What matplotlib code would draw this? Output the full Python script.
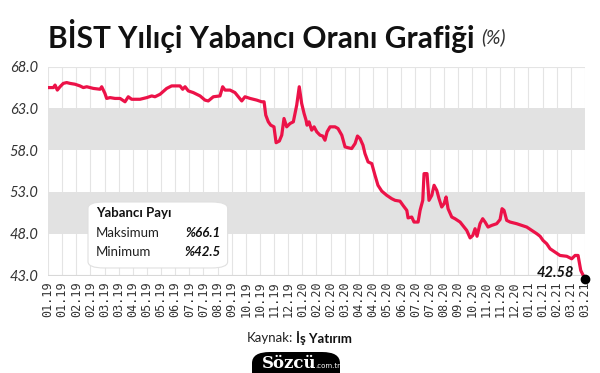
import matplotlib.pyplot as plt
from matplotlib.patches import FancyBboxPatch

# ---------------- data ----------------
tick_labels = ['01.19', '01.19', '02.19', '02.19', '03.19', '03.19', '04.19', '05.19',
               '05.19', '06.19', '07.19', '07.19', '08.19', '09.19', '10.19', '10.19',
               '11.19', '12.19', '01.20', '02.20', '02.20', '03.20', '04.20', '04.20',
               '05.20', '06.20', '07.20', '07.20', '08.20', '09.20', '10.20', '11.20',
               '11.20', '12.20', '01.21', '01.21', '02.21', '03.21', '03.21']

# position along the axis, in tick steps
t = [0.00, 0.38, 0.50, 0.66, 0.85, 1.08, 1.32, 1.56, 1.91, 2.26, 2.50, 2.74, 3.21, 3.68,
     3.80, 4.03, 4.15, 4.39, 4.74, 5.10, 5.45, 5.68, 5.92, 6.51, 6.99, 7.34, 7.57, 7.93,
     8.40, 8.75, 9.34, 9.53, 9.70, 9.93, 10.28, 10.76, 11.11, 11.34, 11.70, 12.17, 12.36,
     12.53, 12.88, 13.23, 13.47, 13.71, 13.94, 14.30, 14.77, 15.12, 15.29, 15.41, 15.59,
     15.76, 15.99, 16.14, 16.37, 16.54, 16.70, 16.89, 17.13, 17.36, 17.60, 17.78, 17.95,
     18.12, 18.26, 18.33, 18.47, 18.66, 18.83, 19.02, 19.25, 19.44, 19.60, 19.75, 19.96,
     20.31, 20.52, 20.79, 21.02, 21.23, 21.49, 21.73, 21.90, 22.08, 22.29, 22.43, 22.65,
     22.91, 23.14, 23.35, 23.62, 23.97, 24.32, 24.56, 24.91, 25.12, 25.39, 25.48, 25.74,
     25.90, 26.19, 26.33, 26.52, 26.61, 26.82, 26.96, 27.16, 27.32, 27.51, 27.67, 27.86,
     28.03, 28.17, 28.31, 28.57, 28.80, 29.16, 29.44, 29.63, 29.87, 30.06, 30.22, 30.36,
     30.57, 30.76, 30.93, 31.14, 31.40, 31.75, 31.99, 32.13, 32.27, 32.46, 32.70, 33.17,
     33.52, 33.88, 34.23, 34.59, 34.82, 35.03, 35.29, 35.53, 35.88, 36.23, 36.71, 37.06,
     37.30, 37.51, 37.70, 38.00]

ratio = [65.5, 65.5, 65.8, 65.2, 65.6, 66.0, 66.1, 66.0, 65.9, 65.7, 65.5, 65.6, 65.4, 65.3,
         65.6, 64.8, 64.2, 64.3, 64.2, 64.2, 63.8, 64.4, 64.1, 64.1, 64.3, 64.5, 64.4, 64.7,
         65.4, 65.7, 65.7, 65.3, 65.6, 65.1, 64.9, 64.5, 64.0, 63.9, 64.4, 64.5, 65.6,
         65.2, 65.2, 64.9, 64.4, 63.9, 64.4, 64.2, 64.0, 63.8, 63.8, 62.2, 61.4,
         61.0, 60.8, 58.9, 59.1, 59.8, 61.8, 60.8, 61.2, 61.4, 63.4, 65.6, 63.6,
         62.4, 61.6, 61.0, 61.4, 60.4, 60.8, 60.2, 59.8, 59.7, 59.2, 60.2, 60.8,
         60.8, 60.6, 59.8, 58.4, 58.3, 58.2, 58.8, 59.7, 59.4, 58.6, 57.6, 56.6,
         56.4, 55.0, 53.8, 53.1, 52.6, 52.2, 52.0, 51.9, 51.4, 50.8, 49.9, 50.0,
         49.4, 49.4, 50.8, 52.0, 55.2, 55.2, 52.0, 52.6, 53.8, 53.2, 52.2, 51.2,
         51.6, 52.4, 51.0, 50.0, 49.8, 49.4, 48.8, 48.4, 47.5, 47.8, 48.6, 47.7,
         49.2, 49.8, 49.4, 48.8, 49.0, 49.2, 49.7, 51.0, 50.8, 49.6, 49.4, 49.2,
         49.0, 48.8, 48.4, 48.0, 47.7, 47.2, 46.8, 46.2, 45.8, 45.4, 45.3, 45.0,
         45.4, 45.4, 43.6, 42.58]

y_ticks = [43.0, 48.0, 53.0, 58.0, 63.0, 68.0]
bands = [(58.0, 63.0), (48.0, 53.0)]
max_val = 66.1
min_val = 42.5
last_val = 42.58

red = '#ec1248'

# ---------------- figure ----------------
fig = plt.figure(figsize=(6, 3.73), dpi=100)
ax = fig.add_axes([48 / 600, 1 - 275.5 / 373, 537 / 600, 208.8 / 373])

ax.set_xlim(0, len(tick_labels) - 1)
ax.set_ylim(y_ticks[0], y_ticks[-1])

# vertical grid, then grey bands over it
for k in range(len(tick_labels)):
    ax.axvline(k, color='#e4e4e4', lw=0.8, zorder=0)
for lo, hi in bands:
    ax.axhspan(lo, hi, color='#e2e2e2', lw=0, zorder=1)
ax.axhline(y_ticks[-1], color='#e4e4e4', lw=0.8, zorder=1)
ax.axhline(y_ticks[0], color='#d8d8d8', lw=0.8, zorder=1)

ax.plot(t, ratio, color=red, lw=2.3, solid_joinstyle='round', zorder=3)
ax.plot(t[-1], last_val, 'o', color='black', ms=6, clip_on=False, zorder=4)
ax.annotate(f'{last_val:.2f}', xy=(t[-1], last_val), xytext=(-8, 4.5),
            textcoords='offset points', ha='right', va='center',
            fontsize=10.5, fontweight='bold', fontstyle='italic',
            family='Lato', color='#111111', zorder=5, annotation_clip=False)

ax.set_xticks(range(len(tick_labels)))
ax.set_xticklabels(tick_labels, rotation=90, family='DejaVu Sans Mono',
                   fontsize=8.5, color='#333333')
ax.set_yticks(y_ticks)
ax.set_yticklabels([f'{v:.1f}' for v in y_ticks], family='Lato', fontstyle='italic',
                   fontsize=10.5, color='#333333')
ax.tick_params(length=0)
ax.tick_params(axis='y', pad=7)
ax.tick_params(axis='x', pad=4)
for s in ax.spines.values():
    s.set_visible(False)

# info box
box = FancyBboxPatch((0.0745, 0.036), 0.26, 0.316, transform=ax.transAxes,
                     boxstyle='round,pad=0,rounding_size=0.03', fc='white',
                     ec='#e0e0e0', lw=0.8, zorder=6)
ax.add_patch(box)
ax.text(0.089, 0.299, 'Yabancı Payı', transform=ax.transAxes, family='Lato',
        fontweight='bold', fontsize=9.5, va='center', color='#111111', zorder=7)
ax.text(0.089, 0.204, 'Maksimum', transform=ax.transAxes, family='Lato',
        fontsize=9.5, va='center', color='#222222', zorder=7)
ax.text(0.089, 0.113, 'Minimum', transform=ax.transAxes, family='Lato',
        fontsize=9.5, va='center', color='#222222', zorder=7)
ax.text(0.322, 0.204, f'%{max_val}', transform=ax.transAxes, family='Lato',
        fontweight='bold', fontstyle='italic', fontsize=9.5, va='center', ha='right',
        color='#111111', zorder=7)
ax.text(0.322, 0.113, f'%{min_val}', transform=ax.transAxes, family='Lato',
        fontweight='bold', fontstyle='italic', fontsize=9.5, va='center', ha='right',
        color='#111111', zorder=7)

# title
fig.text(48 / 600, 1 - 36 / 373, 'BİST Yılıçi Yabancı Oranı Grafiği', family='Lato',
         fontweight='bold', fontsize=21.5, va='center', color='#111111')
fig.text(481 / 600, 1 - 37 / 373, '(%)', family='Lato', fontstyle='italic',
         fontsize=14, va='center', color='#333333')

# source
fig.text(293 / 600, 1 - 338 / 373, 'Kaynak:', family='Lato', fontsize=9.5,
         ha='right', va='center', color='#222222')
fig.text(296 / 600, 1 - 338 / 373, 'İş Yatırım', family='Lato', fontsize=9.5,
         fontweight='bold', ha='left', va='center', color='#111111')

# logo
logo = FancyBboxPatch((252 / 600, -0.05), 88 / 600, (373 - 352) / 373 + 0.05,
                      transform=fig.transFigure, boxstyle='round,pad=0,rounding_size=0.03',
                      fc='black', ec='none')
fig.patches.append(logo)
fig.text(262 / 600, 1 - 363 / 373, 'Sözcü', family='DejaVu Serif', fontweight='bold',
         fontsize=12, color='white', va='center')
fig.text(315 / 600, 1 - 366 / 373, '.com.tr', family='DejaVu Sans', fontsize=5,
         color='white', va='center')

fig.savefig('out.png', dpi=100, facecolor='white')
